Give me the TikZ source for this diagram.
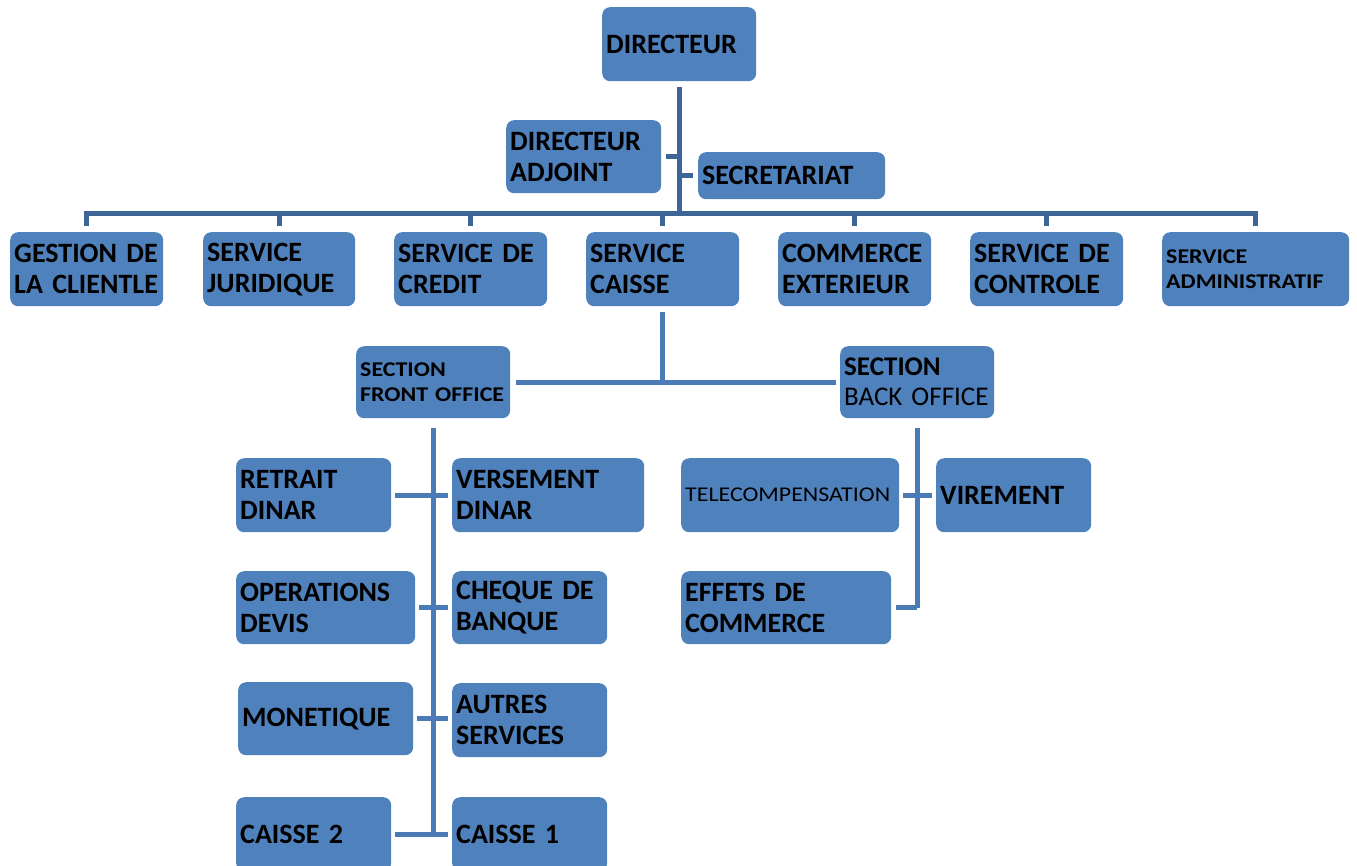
\documentclass[tikz,border=0pt]{standalone}
\usepackage{fontspec}
\setmainfont{Carlito}
\newfontfamily\widefont{Carlito}[FakeStretch=1.14]
\usetikzlibrary{positioning,calc}
\definecolor{boxblue}{HTML}{4F81BD}
\definecolor{linkdark}{HTML}{3E6597}
\definecolor{linklight}{HTML}{4A7BB7}
\newcommand\tightsp{\spaceskip=0.1em\relax\hyphenpenalty=10000\relax}

\begin{document}
\begin{tikzpicture}[x=1pt,y=-1pt,
  orgbox/.style={fill=boxblue,rounded corners=8pt,anchor=north west,inner xsep=4pt,inner ysep=0pt,align=left,text=black},
  fbig/.style={font=\fontsize{28}{31}\selectfont\bfseries\tightsp},
  fsmall/.style={font=\widefont\fontsize{21}{25}\selectfont\bfseries\tightsp},
  fplain/.style={font=\fontsize{27}{30}\selectfont\tightsp},
  fthin/.style={font=\widefont\fontsize{21}{25}\selectfont\tightsp},
  link/.style={draw=linkdark,line width=5pt},
  sublink/.style={draw=linklight,line width=5pt}]
  \useasboundingbox (0,0) rectangle (1357,865);
  % les cases
  \foreach \nm/\x/\y/\w/\h/\f/\txt in {%
    dir/602/7/154/74/fbig/{DIRECTEUR},
    adj/506/120/155/73/fbig/{DIRECTEUR\\ADJOINT},
    secr/698/152/187/47/fbig/{SECRETARIAT},
    gest/10/232/153/74/fbig/{GESTION DE\\LA CLIENTLE},
    jur/203/232/152/74/fbig/{SERVICE\\JURIDIQUE},
    cred/394/232/153/74/fbig/{SERVICE DE\\CREDIT},
    caisse/586/232/153/74/fbig/{SERVICE\\CAISSE},
    comm/778/232/153/74/fbig/{COMMERCE\\EXTERIEUR},
    ctrl/970/232/153/74/fbig/{SERVICE DE\\CONTROLE},
    admin/1162/232/187/74/fsmall/{SERVICE\\ADMINISTRATIF},
    front/356/346/154/72/fsmall/{SECTION\\FRONT OFFICE},
    back/840/346/154/72/fplain/{\textbf{SECTION}\\BACK OFFICE},
    retr/236/458/155/74/fbig/{RETRAIT\\DINAR},
    vers/452/458/192/74/fbig/{VERSEMENT\\DINAR},
    oper/236/571/179/73/fbig/{OPERATIONS\\DEVIS},
    cheq/452/571/155/73/fbig/{CHEQUE DE\\BANQUE},
    monet/238/682/175/73/fbig/{MONETIQUE},
    autr/452/683/155/74/fbig/{AUTRES\\SERVICES},
    cai2/236/797/155/74/fbig/{CAISSE 2},
    cai1/452/797/155/74/fbig/{CAISSE 1},
    tele/681/458/218/74/fthin/{TELECOMPENSATION},
    vir/936/458/155/74/fbig/{VIREMENT},
    effet/681/571/210/73/fbig/{EFFETS DE\\COMMERCE}%
  }{
    \pgfmathsetmacro\tw{\w-8}
    \node[orgbox,\f,minimum width=\w pt,minimum height=\h pt,text width=\tw pt] (\nm) at (\x,\y) {\txt};
  }
  % direction
  \coordinate (bus) at (0,213);
  \draw[link,shorten <=6pt] (dir.south) -- (dir.south |- bus);
  \draw[link,shorten <=5pt] (adj.east) -- (adj.east -| dir.south);
  \draw[link,shorten <=5pt] (secr.west) -- (secr.west -| dir.south);
  \draw[link,line cap=rect] (gest.north |- bus) -- (admin.north |- bus);
  \foreach \n in {gest,jur,cred,caisse,comm,ctrl,admin}
    \draw[link,shorten >=6pt] (\n.north |- bus) -- (\n.north);
  % service caisse
  \draw[sublink,shorten <=6pt] (caisse.south) -- (caisse.south |- front.east);
  \draw[sublink,shorten <=6pt,shorten >=4pt] (front.east) -- (back.west);
  % front office
  \draw[sublink,shorten <=10pt] (front.south) -- (front.south |- cai1.west);
  \foreach \a/\b in {retr/vers,oper/cheq,monet/autr,cai2/cai1}
    \draw[sublink,shorten <=4pt,shorten >=4pt] (\a.east) -- (\a.east -| \b.west);
  % back office
  \draw[sublink,shorten <=10pt] (back.south) -- (back.south |- effet.east);
  \draw[sublink,shorten <=4pt,shorten >=4pt] (tele.east) -- (tele.east -| vir.west);
  \draw[sublink,shorten <=5pt] (effet.east) -- (effet.east -| back.south);
\end{tikzpicture}
\end{document}
